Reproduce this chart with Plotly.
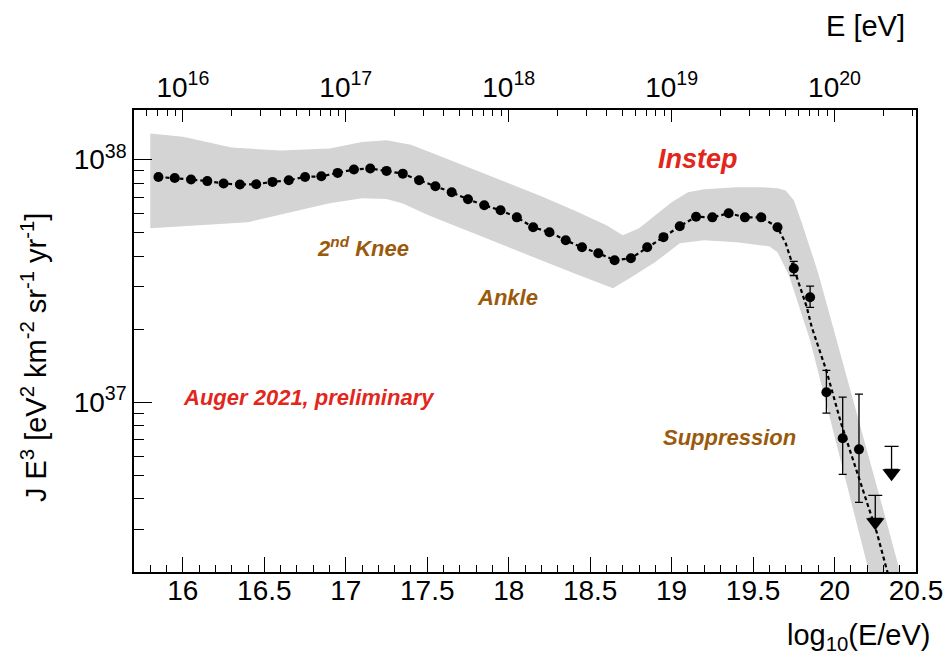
import math
import plotly.graph_objects as go

# ---- Measured flux points: log10(E/eV) bin centres and J*E^3 [eV^2 km^-2 sr^-1 yr^-1]
log_e = [15.85, 15.95, 16.05, 16.15, 16.25, 16.35, 16.45, 16.55, 16.65, 16.75,
         16.85, 16.95, 17.05, 17.15, 17.25, 17.35, 17.45, 17.55, 17.65, 17.75,
         17.85, 17.95, 18.05, 18.15, 18.25, 18.35, 18.45, 18.55, 18.65, 18.75,
         18.85, 18.95, 19.05, 19.15, 19.25, 19.35, 19.45, 19.55, 19.65, 19.75,
         19.85, 19.95, 20.05, 20.15]
flux = [8.48e37, 8.40e37, 8.27e37, 8.15e37, 7.97e37, 7.89e37, 7.91e37, 8.09e37, 8.22e37, 8.48e37,
        8.53e37, 8.81e37, 9.10e37, 9.19e37, 8.98e37, 8.75e37, 8.22e37, 7.76e37, 7.33e37, 6.86e37,
        6.48e37, 6.18e37, 5.78e37, 5.26e37, 5.02e37, 4.65e37, 4.35e37, 4.11e37, 3.85e37, 3.92e37,
        4.35e37, 4.79e37, 5.31e37, 5.81e37, 5.78e37, 6.01e37, 5.78e37, 5.78e37, 5.26e37, 3.56e37,
        2.71e37, 1.10e37, 7.11e36, 6.40e36]
# statistical errors (upper / lower), absolute
stat_up = [0.0] * 39 + [2.5e36, 3.0e36, 2.55e36, 3.39e36, 4.40e36]
stat_dn = [0.0] * 39 + [2.3e36, 2.5e36, 1.98e36, 2.06e36, 2.53e36]

# ---- Upper limits (90% C.L.)
ul_log_e = [20.25, 20.35]
ul_flux = [4.14e36, 6.59e36]

# ---- Fitted spectrum (dashed line)
fit_log_e = [15.85, 15.95, 16.05, 16.15, 16.25, 16.35, 16.45, 16.55, 16.65, 16.75,
             16.85, 16.95, 17.05, 17.15, 17.25, 17.35, 17.45, 17.55, 17.65, 17.75,
             17.85, 17.95, 18.05, 18.15, 18.25, 18.35, 18.45, 18.55, 18.65, 18.75,
             18.85, 18.95, 19.05, 19.15, 19.25, 19.35, 19.45, 19.55, 19.65,
             19.70, 19.74, 19.78, 19.83, 19.86, 19.91, 19.95, 20.04, 20.15, 20.26,
             20.32, 20.40]
fit_flux = [8.48e37, 8.40e37, 8.27e37, 8.15e37, 7.97e37, 7.89e37, 7.91e37, 8.09e37, 8.22e37, 8.48e37,
            8.53e37, 8.81e37, 9.10e37, 9.19e37, 8.98e37, 8.75e37, 8.22e37, 7.76e37, 7.33e37, 6.86e37,
            6.48e37, 6.18e37, 5.78e37, 5.26e37, 5.02e37, 4.65e37, 4.35e37, 4.11e37, 3.85e37, 3.92e37,
            4.35e37, 4.79e37, 5.31e37, 5.81e37, 5.78e37, 6.01e37, 5.78e37, 5.78e37, 5.26e37,
            4.52e37, 3.74e37, 3.09e37, 2.46e37, 2.04e37, 1.64e37, 1.35e37, 8.2e36, 4.85e36, 2.9e36,
            2.05e36, 1.38e36]

# ---- Systematic uncertainty band (upper and lower edges)
band_hi_log_e = [15.8, 16.0, 16.3, 16.6, 16.9, 17.1, 17.25, 17.4, 17.6, 17.8,
                 18.0, 18.2, 18.4, 18.6, 18.7, 18.8, 18.9, 19.0, 19.1, 19.2,
                 19.4, 19.55, 19.65, 19.7, 19.75, 19.8, 19.9, 20.0, 20.1, 20.2,
                 20.3, 20.4, 20.5]
band_hi = [1.28e38, 1.24e38, 1.12e38, 1.09e38, 1.11e38, 1.18e38, 1.20e38, 1.15e38, 1.02e38, 9.03e37,
           7.98e37, 7.06e37, 6.18e37, 5.36e37, 4.88e37, 5.21e37, 5.89e37, 6.67e37, 7.33e37, 7.55e37,
           7.69e37, 7.69e37, 7.62e37, 7.46e37, 6.79e37, 5.47e37, 3.40e37, 1.95e37, 1.12e37, 6.34e36,
           3.59e36, 2.03e36, 1.16e36]
band_lo_log_e = [15.8, 16.4, 16.9, 17.1, 17.25, 17.35, 17.5, 17.8, 18.1, 18.4,
                 18.64, 18.75, 18.9, 19.05, 19.2, 19.4, 19.6, 19.65, 19.72, 19.78,
                 19.85, 20.0, 20.1, 20.21, 20.3]
band_lo = [5.21e37, 5.52e37, 6.61e37, 6.93e37, 6.88e37, 6.59e37, 5.92e37, 4.92e37, 4.08e37, 3.40e37,
           2.95e37, 3.27e37, 3.78e37, 4.52e37, 4.65e37, 4.56e37, 4.39e37, 4.15e37, 3.34e37, 2.51e37,
           1.80e37, 7.14e36, 3.94e36, 2.03e36, 1.17e36]

# ---- Axis settings
x_range = [15.7, 20.5]
y_min, y_max = 2e36, 1.6e38
x_tick_vals = [16, 16.5, 17, 17.5, 18, 18.5, 19, 19.5, 20, 20.5]
x_tick_text = ["16", "16.5", "17", "17.5", "18", "18.5", "19", "19.5", "20", "20.5"]
e_tick_vals = [1e16, 1e17, 1e18, 1e19, 1e20]
e_tick_text = ["10<sup>16</sup>", "10<sup>17</sup>", "10<sup>18</sup>", "10<sup>19</sup>", "10<sup>20</sup>"]
y_tick_vals = [1e37, 1e38]
y_tick_text = ["10<sup>37</sup>", "10<sup>38</sup>"]

# ---- Page geometry
W, H = 949, 662
M_L, M_R, M_T, M_B = 134, 33, 110, 90
plot_h = H - M_T - M_B
px_per_decade = plot_h / (math.log10(y_max) - math.log10(y_min))

FONT = "Liberation Sans, Arial, Helvetica, sans-serif"
RED = "#e3261c"
BROWN = "#9a5a0c"
BAND = "#d4d4d4"
TICK_FONT = 28
TITLE_FONT = 29

fig = go.Figure()

# systematic band
fig.add_trace(go.Scatter(
    x=band_hi_log_e + band_lo_log_e[::-1],
    y=band_hi + band_lo[::-1],
    fill="toself", fillcolor=BAND, mode="lines", line=dict(width=0),
    hoverinfo="skip", showlegend=False))

# fit
fig.add_trace(go.Scatter(
    x=fit_log_e, y=fit_flux, mode="lines",
    line=dict(color="black", width=2.2, dash="4px,3px"),
    hoverinfo="skip", showlegend=False))

# data points
fig.add_trace(go.Scatter(
    x=log_e, y=flux, mode="markers",
    marker=dict(color="black", size=10),
    error_y=dict(type="data", symmetric=False, array=stat_up, arrayminus=stat_dn,
                 color="black", thickness=1.3, width=4),
    showlegend=False))

# upper limits: bar with cap, ending in a down-pointing triangle
bar_px = 23
tri_size = 16
tri_top = [v / 10 ** (bar_px / px_per_decade) for v in ul_flux]
tri_ctr = [v / 10 ** ((bar_px + tri_size / 4) / px_per_decade) for v in ul_flux]
fig.add_trace(go.Scatter(
    x=ul_log_e, y=ul_flux, mode="markers",
    marker=dict(size=1, opacity=0),
    error_y=dict(type="data", symmetric=False, array=[0.0] * len(ul_flux),
                 arrayminus=[a - b for a, b in zip(ul_flux, tri_top)],
                 color="black", thickness=1.3, width=7),
    hoverinfo="skip", showlegend=False))
fig.add_trace(go.Scatter(
    x=ul_log_e, y=tri_ctr, mode="markers",
    marker=dict(symbol="triangle-down", size=tri_size, color="black"),
    hoverinfo="skip", showlegend=False))

# carrier for the energy axis on top
fig.add_trace(go.Scatter(
    x=e_tick_vals[:1], y=y_tick_vals[:1], xaxis="x2", mode="markers",
    marker=dict(opacity=0), hoverinfo="skip", showlegend=False))

minor_e = [m * 10.0 ** d for d in range(15, 21) for m in range(2, 10)
           if x_range[0] <= math.log10(m * 10.0 ** d) <= x_range[1]]
minor_y = [m * 10.0 ** d for d in range(36, 38) for m in range(2, 10)]

fig.update_layout(
    width=W, height=H,
    margin=dict(l=M_L, r=M_R, t=M_T, b=M_B),
    paper_bgcolor="white", plot_bgcolor="white",
    font=dict(family=FONT, color="black", size=TICK_FONT),
    xaxis=dict(
        range=x_range, tickmode="array", tickvals=x_tick_vals, ticktext=x_tick_text,
        ticks="inside", ticklen=15, tickwidth=1.3, tickcolor="black",
        minor=dict(dtick=0.1, tick0=0, ticks="inside", ticklen=7, tickwidth=1.3, tickcolor="black"),
        showline=True, linecolor="black", linewidth=1.6, mirror=True,
        showgrid=False, zeroline=False, tickfont=dict(size=TICK_FONT),
        automargin=False, ticklabelstandoff=-7,
    ),
    xaxis2=dict(
        type="log", range=x_range, overlaying="x", side="top", anchor="y",
        tickmode="array", tickvals=e_tick_vals, ticktext=e_tick_text,
        ticks="inside", ticklen=12, tickwidth=1.3, tickcolor="black",
        minor=dict(tickmode="array", tickvals=minor_e, ticks="inside", ticklen=6,
                   tickwidth=1.3, tickcolor="black"),
        showline=True, linecolor="black", linewidth=1.6,
        showgrid=False, zeroline=False, tickfont=dict(size=TICK_FONT),
        automargin=False,
    ),
    yaxis=dict(
        type="log", range=[math.log10(y_min), math.log10(y_max)],
        tickmode="array", tickvals=y_tick_vals, ticktext=y_tick_text,
        ticks="inside", ticklen=18, tickwidth=1.3, tickcolor="black",
        minor=dict(tickmode="array", tickvals=minor_y, ticks="inside", ticklen=10,
                   tickwidth=1.3, tickcolor="black"),
        showline=True, linecolor="black", linewidth=1.6, mirror=True,
        showgrid=False, zeroline=False, tickfont=dict(size=TICK_FONT),
        automargin=False,
    ),
)

# axis titles
fig.add_annotation(text="J E<sup>3</sup> [eV<sup>2</sup> km<sup>-2</sup> sr<sup>-1</sup> yr<sup>-1</sup>]",
                   xref="paper", yref="paper", x=-0.128, y=0.465, textangle=-90,
                   showarrow=False, font=dict(size=TITLE_FONT), xanchor="center", yanchor="middle")
fig.add_annotation(text="log<sub>10</sub>(E/eV)", xref="paper", yref="paper",
                   x=1.02, y=-0.14, xanchor="right", yanchor="middle",
                   showarrow=False, font=dict(size=TITLE_FONT))
fig.add_annotation(text="E [eV]", xref="paper", yref="paper",
                   x=0.988, y=1.182, xanchor="right", yanchor="middle",
                   showarrow=False, font=dict(size=TITLE_FONT))

# feature labels
labels = [
    ("<b><i>Instep</i></b>", 19.164, 38.001, RED, 27),
    ("<b><i>2<sup>nd</sup> Knee</i></b>", 17.104, 37.639, BROWN, 22),
    ("<b><i>Ankle</i></b>", 17.993, 37.433, BROWN, 22),
    ("<b><i>Auger 2021, preliminary</i></b>", 16.773, 37.021, RED, 22),
    ("<b><i>Suppression</i></b>", 19.354, 36.856, BROWN, 22),
]
for text, lx, ly, col, sz in labels:
    fig.add_annotation(text=text, x=lx, y=ly, xref="x", yref="y", showarrow=False,
                       font=dict(color=col, size=sz), xanchor="center", yanchor="middle")

fig.write_html("out.html")
